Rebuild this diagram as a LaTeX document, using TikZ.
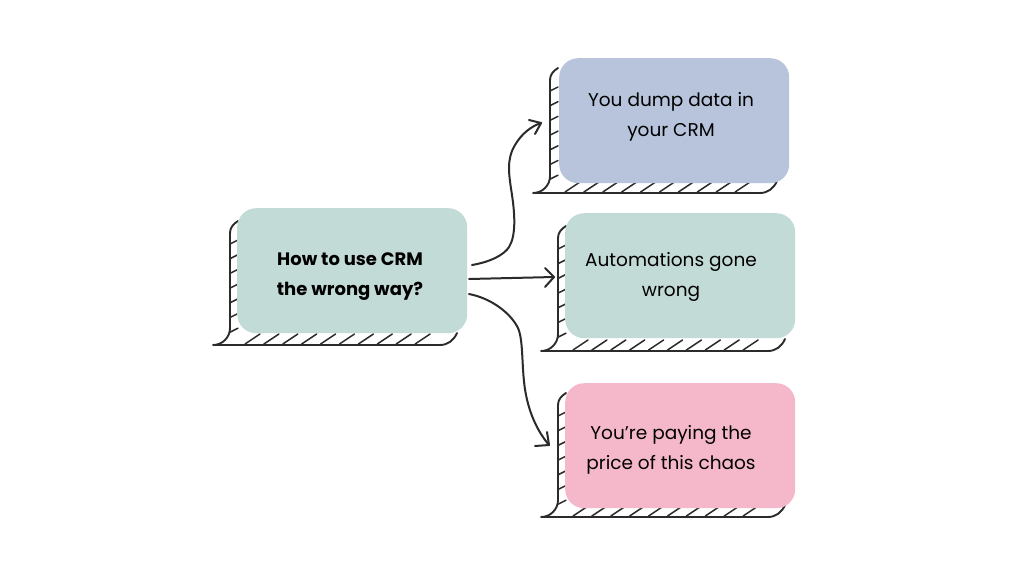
\documentclass[tikz,border=0pt]{standalone}
\usepackage{fontspec}
\setmainfont{Poppins}
\definecolor{inkc}{HTML}{2B2B2B}
\definecolor{tealc}{HTML}{C3DBD6}
\definecolor{bluec}{HTML}{B7C4DC}
\definecolor{pinkc}{HTML}{F5B8CA}
\tikzset{
  card/.style={fill=#1,draw=none,rounded corners=19pt,minimum width=230pt,minimum height=125pt,inner sep=0pt,anchor=north west},
  shade line/.style={draw=inkc,line width=1.9pt,line cap=round,line join=round},
  hatch line/.style={draw=inkc,line width=1.5pt,line cap=round},
  conn/.style={draw=inkc,line width=2pt,line cap=round,line join=round},
  txt/.style={text=black,align=center,font=\fontsize{18.5}{30}\selectfont,inner sep=0pt},
}
% #1 left, #2 top of shadow, #3 right, #4 bottom, #5 first tick x
\newcommand{\shadowshape}[4]{%
  \draw[shade line] (#1+8,#2-4) .. controls (#1+3,#2-1) and (#1,#2+3) .. (#1,#2+8) -- (#1,#4-17) arc[start angle=180,end angle=90,radius=-17pt] -- (#3-17,#4) .. controls (#3-9,#4) and (#3-3,#4-5) .. (#3,#4-12);
  \foreach \i in {0,...,6} \draw[hatch line] (#1,#2+19+\i*14.7) -- (#1+8,#2+15+\i*14.7);
  \foreach \i in {0,...,9} \draw[hatch line] (#1+15+\i*18.9,#4-1) -- (#1+30+\i*18.9,#4-11);
}
\begin{document}
\begin{tikzpicture}[x=1pt,y=-1pt]
\useasboundingbox (0,0) rectangle (1024,576);
\fill[white] (0,0) rectangle (1024,576);
\shadowshape{230}{225}{457}{345}
\shadowshape{550}{72}{777}{193}
\shadowshape{558}{230}{785}{351}
\shadowshape{558}{397}{785}{517}
\node[card=tealc] (main) at (237,208) {};
\node[card=bluec] (b1) at (559,58) {};
\node[card=tealc] (b2) at (565,213) {};
\node[card=pinkc] (b3) at (565,383) {};
\node[txt,font=\fontsize{18}{30}\selectfont\bfseries] (tmain) at (350,276.5) {How to use CRM\\the wrong way?};
\node[txt] (t1) at (671,117) {You dump data in\\your CRM};
\node[txt] (t2) at (671,277) {Automations gone\\wrong};
\node[txt] (t3) at (671,450) {You’re paying the\\price of this chaos};
\coordinate (s1) at (472,265);
\coordinate (e1) at (541,123);
\coordinate (s2) at (469,279);
\coordinate (e2) at (554,277);
\coordinate (s3) at (469,294);
\coordinate (e3) at (549,445);
\draw[conn] (s1) .. controls (490,262) and (504,255) .. (509,247) .. controls (516,236) and (515,215) .. (512,195) .. controls (509,175) and (506,160) .. (515,145) .. controls (522,133) and (532,126) .. (e1);
\draw[conn] (529,120) -- (e1) -- (535,134);
\draw[conn] (s2) -- (e2);
\draw[conn] (545,268) -- (e2) -- (545,287);
\draw[conn] (s3) .. controls (490,298) and (510,312) .. (518,328) .. controls (524,342) and (521,370) .. (526,395) .. controls (530,415) and (538,432) .. (e3);
\draw[conn] (547,432) -- (e3) -- (535,446);
\end{tikzpicture}
\end{document}
